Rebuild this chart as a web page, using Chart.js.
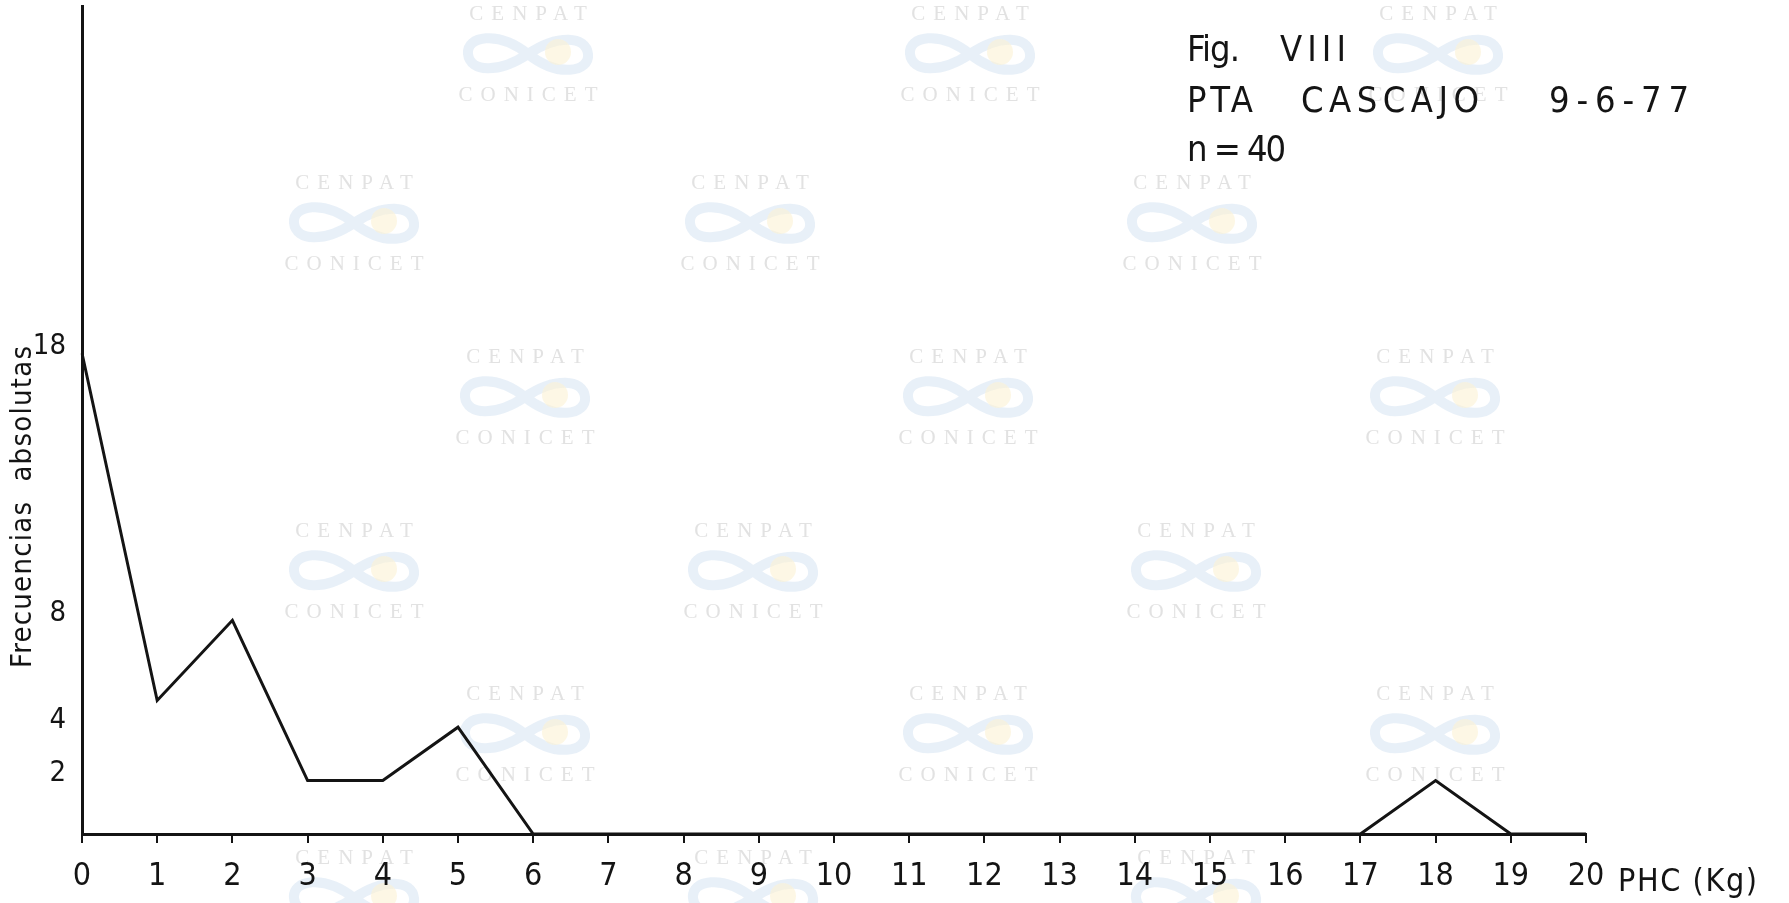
<!DOCTYPE html>
<html>
<head>
<meta charset="utf-8">
<title>Fig. VIII – PTA CASCAJO 9-6-77</title>
<script src="https://cdn.jsdelivr.net/npm/chart.js@4.4.1/dist/chart.umd.min.js"></script>
<style>
  html, body { margin: 0; padding: 0; background: #ffffff; }
  #wrap { width: 1789px; height: 903px; position: relative; }
</style>
</head>
<body>
<div id="wrap"><canvas id="chart" width="1789" height="903"></canvas></div>
<script>
// PHC classes (kg) along the horizontal axis
const phcClasses = ['0','1','2','3','4','5','6','7','8','9','10','11','12','13','14','15','16','17','18','19','20'];
// absolute frequency per class
const frequencies = [18, 5, 8, 2, 2, 4, 0, 0, 0, 0, 0, 0, 0, 0, 0, 0, 0, 0, 2, 0, 0];
// labelled values on the frequency axis
const frequencyTicks = [2, 4, 8, 18];
const frequencyMax = 31;

const yTitle = 'Frecuencias  absolutas';
const xTitle = 'PHC (Kg)';
const headerRows = [
  [['Fig.', 1187, 1240], ['VIII', 1280, 1346]],
  [['PTA', 1187, 1253], ['CASCAJO', 1301, 1479], ['9-6-77', 1549, 1689]],
  [['n = 40', 1187, 1286]]
];
const headerBaselines = [61, 112, 161];

// archive stamps repeated over the sheet: [centre x, top line y]
const stampSpots = [
  [528, 14], [970, 14], [1438, 14],
  [354, 183], [750, 183], [1192, 183],
  [525, 357], [968, 357], [1435, 357],
  [354, 531], [753, 531], [1196, 531],
  [525, 694], [968, 694], [1435, 694],
  [354, 858], [753, 858], [1196, 858]
];

const INK = '#141414';
const FONT = '"DejaVu Sans Condensed", "DejaVu Sans", sans-serif';

// draw text stretched with letter spacing so it spans x0..x1
function fitText(ctx, text, x0, x1, y) {
  ctx.letterSpacing = '0px';
  const w = ctx.measureText(text).width;
  const n = Array.from(text).length;
  const sp = n > 1 ? (x1 - x0 - w) / (n - 1) : 0;
  ctx.letterSpacing = sp + 'px';
  ctx.fillText(text, x0, y);
  ctx.letterSpacing = '0px';
}

const stampPlugin = {
  id: 'stamps',
  beforeDraw(chart) {
    const ctx = chart.ctx;
    ctx.save();
    ctx.textAlign = 'center';
    ctx.textBaseline = 'middle';
    for (const [cx, y] of stampSpots) {
      ctx.fillStyle = '#e2e2e2';
      ctx.font = '21px "Liberation Serif", serif';
      ctx.letterSpacing = '8px';
      ctx.fillText('CENPAT', cx + 4, y);
      ctx.fillText('CONICET', cx + 4, y + 81);
      ctx.letterSpacing = '0px';
      // loop emblem
      const ly = y + 40;
      ctx.strokeStyle = 'rgba(228,237,247,0.85)';
      ctx.lineWidth = 10;
      ctx.beginPath();
      ctx.moveTo(cx, ly);
      ctx.bezierCurveTo(cx - 30, ly - 24, cx - 62, ly - 18, cx - 60, ly);
      ctx.bezierCurveTo(cx - 58, ly + 18, cx - 30, ly + 20, cx, ly);
      ctx.bezierCurveTo(cx + 30, ly - 20, cx + 58, ly - 18, cx + 60, ly);
      ctx.bezierCurveTo(cx + 62, ly + 18, cx + 30, ly + 24, cx, ly);
      ctx.stroke();
      ctx.fillStyle = 'rgba(252,242,212,0.6)';
      ctx.beginPath();
      ctx.arc(cx + 30, ly - 2, 13, 0, Math.PI * 2);
      ctx.fill();
    }
    ctx.restore();
  }
};

const textPlugin = {
  id: 'sheetText',
  afterDraw(chart) {
    const ctx = chart.ctx;
    const area = chart.chartArea;
    ctx.save();
    ctx.fillStyle = INK;
    ctx.textBaseline = 'alphabetic';
    ctx.textAlign = 'left';

    // header block
    ctx.font = '36px ' + FONT;
    headerRows.forEach((row, i) => {
      for (const [t, x0, x1] of row) fitText(ctx, t, x0, x1, headerBaselines[i]);
    });

    // horizontal axis name, in line with the tick labels
    ctx.font = '32px ' + FONT;
    fitText(ctx, xTitle, area.right + 32, area.right + 171, 891);

    // vertical axis name
    ctx.save();
    ctx.translate(31, 668);
    ctx.rotate(-Math.PI / 2);
    ctx.font = '29px ' + FONT;
    fitText(ctx, yTitle, 0, 322, 0);
    ctx.restore();

    ctx.restore();
  }
};

new Chart(document.getElementById('chart'), {
  type: 'line',
  data: {
    labels: phcClasses,
    datasets: [{
      data: frequencies,
      borderColor: INK,
      borderWidth: 3,
      pointRadius: 0,
      tension: 0,
      fill: false,
      borderJoinStyle: 'miter'
    }]
  },
  options: {
    responsive: false,
    animation: false,
    devicePixelRatio: 1,
    layout: { padding: { left: 0, top: 6, right: 203, bottom: 0 } },
    plugins: {
      legend: { display: false },
      tooltip: { enabled: false },
      title: { display: false }
    },
    scales: {
      x: {
        type: 'category',
        offset: false,
        afterFit(scale) { scale.height = 69; scale.paddingLeft = 0; scale.paddingRight = 0; },
        grid: {
          display: true,
          drawOnChartArea: false,
          drawTicks: true,
          tickLength: 9,
          color: INK,
          lineWidth: 2
        },
        border: { display: true, color: INK, width: 3 },
        ticks: {
          color: INK,
          font: { family: FONT, size: 32 },
          padding: 14,
          maxRotation: 0,
          autoSkip: false
        }
      },
      y: {
        type: 'linear',
        min: 0,
        max: frequencyMax,
        afterFit(scale) { scale.width = 82; scale.paddingTop = 0; scale.paddingBottom = 0; },
        afterBuildTicks(scale) {
          scale.ticks = frequencyTicks.map(v => ({ value: v }));
        },
        grid: { display: false, drawTicks: false },
        border: { display: true, color: INK, width: 3 },
        ticks: {
          color: INK,
          font: { family: FONT, size: 29 },
          padding: 16,
          labelOffset: -7
        }
      }
    }
  },
  plugins: [stampPlugin, textPlugin]
});
</script>
</body>
</html>
